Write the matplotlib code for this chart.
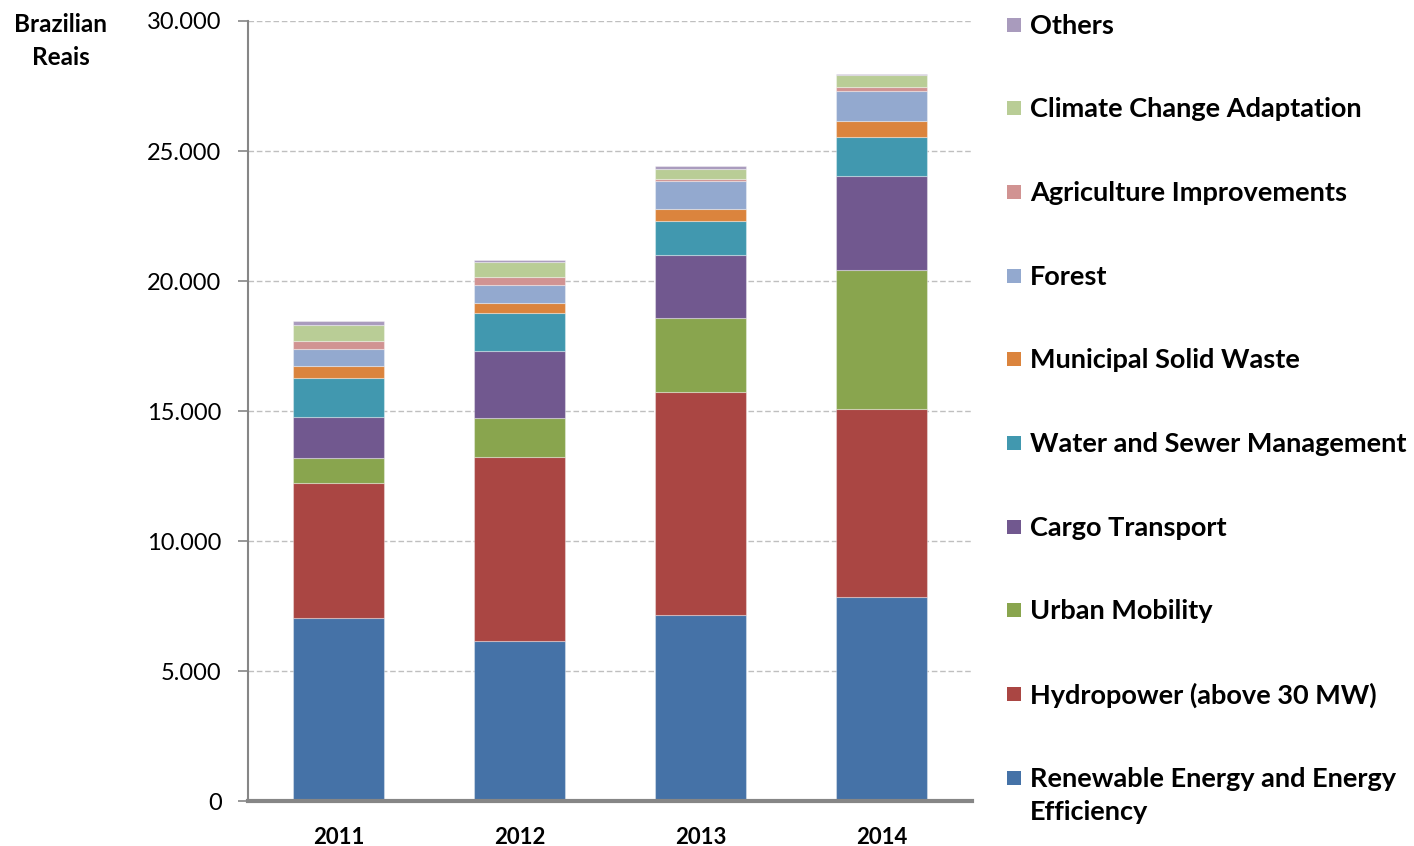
import matplotlib
matplotlib.use("Agg")
import matplotlib.pyplot as plt
import numpy as np
from matplotlib.patches import Rectangle
from matplotlib.ticker import FuncFormatter

plt.rcParams['font.family'] = ['Lato', 'DejaVu Sans']

years = ["2011", "2012", "2013", "2014"]
series_names = [
    "Renewable Energy and Energy\nEfficiency",
    "Hydropower (above 30 MW)",
    "Urban Mobility",
    "Cargo Transport",
    "Water and Sewer Management",
    "Municipal Solid Waste",
    "Forest",
    "Agriculture Improvements",
    "Climate Change Adaptation",
    "Others",
]
renewable = [7050, 6150, 7150, 7835]
hydropower = [5190, 7090, 8590, 7230]
urban_mobility = [935, 1500, 2820, 5345]
cargo_transport = [1590, 2550, 2450, 3630]
water_sewer = [1487, 1475, 1295, 1500]
solid_waste = [475, 370, 475, 615]
forest = [641, 720, 1065, 1155]
agriculture = [308, 280, 65, 155]
climate_adapt = [628, 580, 400, 450]
others = [154, 100, 100, 65]
series_values = [renewable, hydropower, urban_mobility, cargo_transport, water_sewer,
                 solid_waste, forest, agriculture, climate_adapt, others]
colors = ["#4572A7", "#AA4643", "#89A54E", "#71588F", "#4198AF",
          "#DB843D", "#93A9CF", "#D19392", "#B9CD96", "#A99BBD"]

fig = plt.figure(figsize=(14.14, 8.46), dpi=100)
ax = fig.add_axes([248/1414, 45/846, (972-248)/1414, (801-21)/846])

x = np.arange(len(years))
bottom = np.zeros(len(years))
for vals, col in zip(series_values, colors):
    ax.bar(x, vals, width=0.5, bottom=bottom, color=col,
           edgecolor=(1, 1, 1, 0.35), linewidth=0.8, zorder=3)
    bottom += np.array(vals)

ax.set_xlim(-0.5, len(years) - 0.5)
ax.set_ylim(0, 30000)
ax.set_yticks(np.arange(0, 30001, 5000))
ax.yaxis.set_major_formatter(FuncFormatter(lambda v, p: f"{int(v):,}".replace(",", ".")))
ax.grid(axis='y', color='#BFBFBF', linestyle=(0, (4, 2)), linewidth=1, zorder=0)
ax.set_xticks(x)
ax.set_xticklabels(years, fontsize=16, fontweight='bold')
ax.tick_params(axis='x', length=0, pad=19)
ax.tick_params(axis='y', length=7, width=1.2, color='#868686', labelsize=17, pad=12)

for s in ['top', 'right']:
    ax.spines[s].set_visible(False)
ax.spines['left'].set_color('#868686')
ax.spines['left'].set_linewidth(1.5)
ax.spines['bottom'].set_color('#868686')
ax.spines['bottom'].set_linewidth(3)
ax.spines['bottom'].set_zorder(5)

fig.text(61/1414, 1 - 41/846, "Brazilian\nReais", ha='center', va='center',
         fontsize=17.5, fontweight='bold', linespacing=1.55)

# legend (top to bottom: reverse stacking order)
leg_y = [25, 108, 192, 276, 359, 443, 527, 610, 694, 778]
for i, (name, col) in enumerate(zip(series_names[::-1], colors[::-1])):
    yc = leg_y[i]
    fig.patches.append(Rectangle((1007/1414, 1 - (yc + 7)/846), 14/1414, 14/846,
                                 transform=fig.transFigure, facecolor=col,
                                 edgecolor='none'))
    fig.text(1030/1414, 1 - (yc - 11)/846, name, ha='left', va='top',
             fontsize=19.5, fontweight='bold', linespacing=1.45)

fig.savefig("out.png", dpi=100)
